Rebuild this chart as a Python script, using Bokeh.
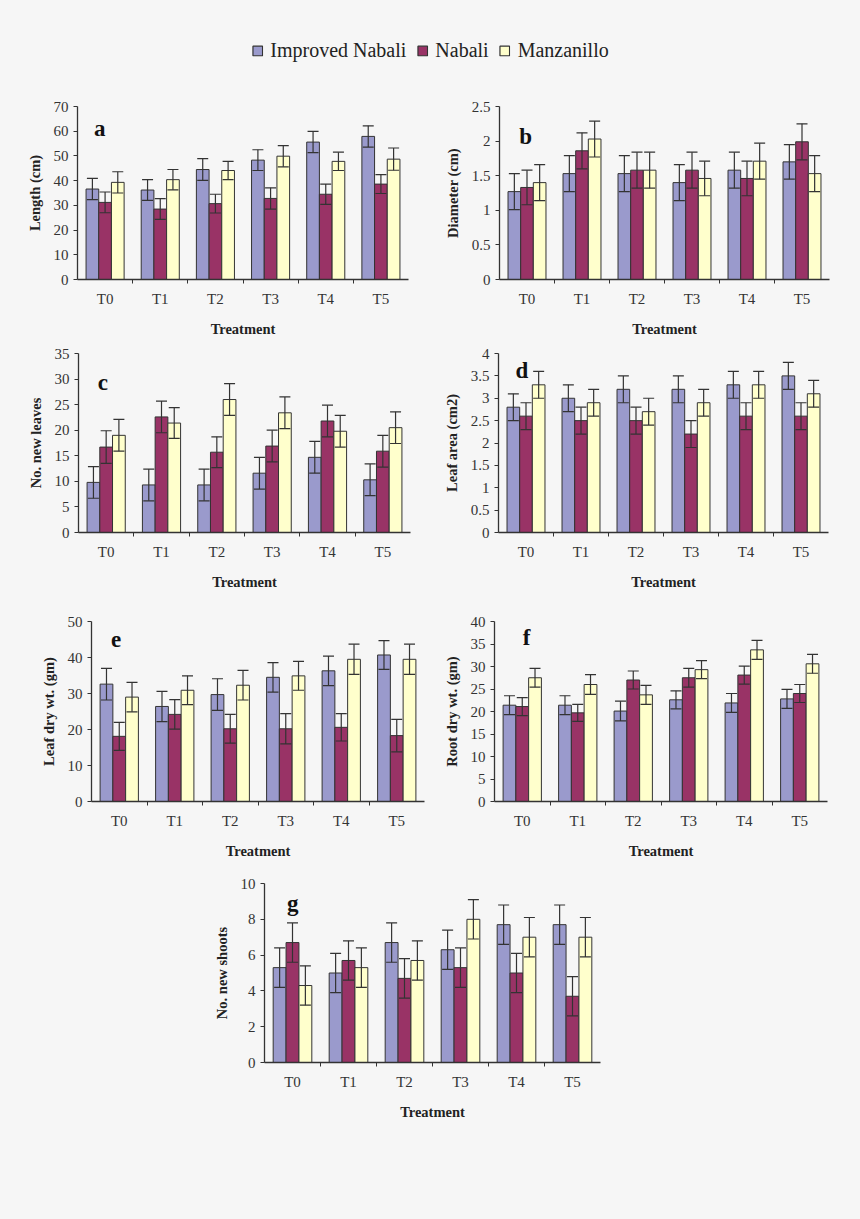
import numpy as np
from bokeh.plotting import figure
from bokeh.models import (Range1d, FixedTicker, SingleIntervalTicker, NumeralTickFormatter,
                          Whisker, ColumnDataSource, Label, Legend, LegendItem, TeeHead)
from bokeh.layouts import column, row
from bokeh.transform import dodge
from bokeh.embed import file_html
from bokeh.resources import INLINE

# ---------------- data ----------------
treatments = ["T0", "T1", "T2", "T3", "T4", "T5"]
series = ["Improved Nabali", "Nabali", "Manzanillo"]

# a: Length (cm)
length_in = [36.6, 36.2, 44.5, 48.3, 55.6, 57.9]
length_n = [31.2, 28.5, 30.7, 32.8, 34.5, 38.6]
length_m = [39.3, 40.4, 44.1, 49.9, 47.8, 48.7]
length_err_in = [4.3, 4.2, 4.4, 4.2, 4.3, 4.3]
length_err_n = [4.2, 4.2, 3.8, 4.3, 4.1, 3.8]
length_err_m = [4.3, 4.1, 3.7, 4.3, 3.7, 4.5]

# b: Diameter (cm)
diam_in = [1.27, 1.53, 1.53, 1.40, 1.58, 1.70]
diam_n = [1.33, 1.86, 1.58, 1.58, 1.46, 1.99]
diam_m = [1.40, 2.03, 1.58, 1.46, 1.71, 1.53]
diam_err_in = [0.26, 0.26, 0.26, 0.26, 0.26, 0.25]
diam_err_n = [0.25, 0.26, 0.26, 0.26, 0.25, 0.26]
diam_err_m = [0.26, 0.26, 0.26, 0.25, 0.26, 0.26]

# c: No. new leaves
leaves_in = [9.8, 9.3, 9.3, 11.6, 14.7, 10.3]
leaves_n = [16.7, 22.6, 15.7, 16.9, 21.8, 15.9]
leaves_m = [19.0, 21.4, 26.0, 23.4, 19.8, 20.5]
leaves_err_in = [3.1, 3.1, 3.1, 3.1, 3.1, 3.1]
leaves_err_n = [3.2, 3.1, 3.0, 3.1, 3.1, 3.1]
leaves_err_m = [3.1, 3.0, 3.1, 3.1, 3.1, 3.1]

# d: Leaf area (cm2)
area_in = [2.8, 3.0, 3.2, 3.2, 3.3, 3.5]
area_n = [2.6, 2.5, 2.5, 2.2, 2.6, 2.6]
area_m = [3.3, 2.9, 2.7, 2.9, 3.3, 3.1]
area_err_in = [0.3, 0.3, 0.3, 0.3, 0.3, 0.3]
area_err_n = [0.3, 0.3, 0.3, 0.3, 0.3, 0.3]
area_err_m = [0.3, 0.3, 0.3, 0.3, 0.3, 0.3]

# e: Leaf dry wt. (gm)
leafdw_in = [32.6, 26.4, 29.7, 34.5, 36.3, 40.7]
leafdw_n = [18.1, 24.2, 20.2, 20.2, 20.6, 18.3]
leafdw_m = [29.0, 30.9, 32.3, 34.9, 39.5, 39.5]
leafdw_err_in = [4.4, 4.2, 4.4, 4.1, 4.1, 4.0]
leafdw_err_n = [3.9, 4.1, 4.0, 4.2, 3.8, 4.5]
leafdw_err_m = [4.1, 4.0, 4.1, 4.0, 4.2, 4.2]

# f: Root dry wt. (gm)
rootdw_in = [21.4, 21.4, 20.1, 22.6, 21.9, 22.8]
rootdw_n = [21.1, 19.7, 27.0, 27.5, 28.1, 24.0]
rootdw_m = [27.5, 26.0, 23.7, 29.3, 33.7, 30.6]
rootdw_err_in = [2.1, 2.1, 2.2, 2.0, 2.1, 2.1]
rootdw_err_n = [2.0, 1.9, 2.0, 2.1, 2.0, 2.0]
rootdw_err_m = [2.1, 2.2, 2.1, 2.0, 2.1, 2.1]

# g: No. new shoots
shoots_in = [5.3, 5.0, 6.7, 6.3, 7.7, 7.7]
shoots_n = [6.7, 5.7, 4.7, 5.3, 5.0, 3.7]
shoots_m = [4.3, 5.3, 5.7, 8.0, 7.0, 7.0]
shoots_err_in = [1.1, 1.1, 1.1, 1.1, 1.1, 1.1]
shoots_err_n = [1.1, 1.1, 1.1, 1.1, 1.1, 1.1]
shoots_err_m = [1.1, 1.1, 1.1, 1.1, 1.1, 1.1]

# ---------------- style ----------------
BG = "#f6f6f6"
COLORS = ["#9a9acc", "#993366", "#ffffcc"]
EDGE = "#333333"
FONT = "Liberation Serif"
OFFS = [-0.23, 0.0, 0.23]
BAR_W = 0.23


def make_panel(vals, errs, ylabel, ymax, yint, letter, lx, ly,
               fw, fh, bl, br, bt, bb):
    n = len(treatments)
    centers = list(range(n))
    bounds = [i + 0.5 for i in range(n - 1)]
    p = figure(width=bl + fw + br, height=bt + fh + bb,
               x_range=Range1d(-0.5, n - 0.5), y_range=Range1d(0, ymax),
               output_backend="svg", toolbar_location=None,
               min_border_left=bl, min_border_right=br,
               min_border_top=bt, min_border_bottom=bb,
               background_fill_color=BG, border_fill_color=BG,
               outline_line_color=None)
    p.grid.visible = False

    data = {"x": centers}
    keys = ["s0", "s1", "s2"]
    for k, v, e in zip(keys, vals, errs):
        v = np.array(v, dtype=float)
        e = np.array(e, dtype=float)
        data[k] = v
        data[k + "_hi"] = v + e
        data[k + "_lo"] = v - e
    src = ColumnDataSource(data)

    for k, off, col in zip(keys, OFFS, COLORS):
        p.vbar(x=dodge("x", off, range=p.x_range), top=k, width=BAR_W,
               fill_color=col, line_color=EDGE, line_width=1, source=src)
    for k, off in zip(keys, OFFS):
        w = Whisker(source=src, base=dodge("x", off, range=p.x_range),
                    upper=k + "_hi", lower=k + "_lo",
                    line_color=EDGE, line_width=1.2,
                    upper_head=TeeHead(size=11, line_color=EDGE, line_width=1.2),
                    lower_head=TeeHead(size=11, line_color=EDGE, line_width=1.2),
                    level="overlay")
        p.add_layout(w)

    xa = p.xaxis[0]
    xa.ticker = FixedTicker(ticks=centers, minor_ticks=bounds)
    xa.major_label_overrides = {c: t for c, t in zip(centers, treatments)}
    xa.major_tick_out = 0
    xa.major_tick_in = 0
    xa.minor_tick_out = 4
    xa.minor_tick_in = 0
    xa.minor_tick_line_color = EDGE
    xa.axis_line_color = EDGE
    xa.axis_line_width = 1.3
    xa.major_label_text_font = FONT
    xa.major_label_text_font_size = "15px"
    xa.major_label_text_color = "#333333"
    xa.major_label_standoff = 7
    xa.axis_label = "Treatment"
    xa.axis_label_text_font = FONT
    xa.axis_label_text_font_style = "bold"
    xa.axis_label_text_font_size = "14.5px"
    xa.axis_label_text_color = "#222222"
    xa.axis_label_standoff = 11

    ya = p.yaxis[0]
    ya.ticker = SingleIntervalTicker(interval=yint, num_minor_ticks=0)
    ya.formatter = NumeralTickFormatter(format="0.[0]")
    ya.major_tick_out = 4
    ya.major_tick_in = 0
    ya.minor_tick_out = 0
    ya.minor_tick_in = 0
    ya.major_tick_line_color = EDGE
    ya.axis_line_color = EDGE
    ya.axis_line_width = 1.3
    ya.major_label_text_font = FONT
    ya.major_label_text_font_size = "15px"
    ya.major_label_text_color = "#333333"
    ya.major_label_standoff = 5
    ya.axis_label = ylabel
    ya.axis_label_text_font = FONT
    ya.axis_label_text_font_style = "bold"
    ya.axis_label_text_font_size = "14.5px"
    ya.axis_label_text_color = "#222222"
    ya.axis_label_standoff = 8

    p.add_layout(Label(x=lx, y=ly, text=letter, text_font=FONT,
                       text_font_style="bold", text_font_size="23px",
                       text_color="#111111", text_align="left",
                       text_baseline="alphabetic"))
    return p


pa = make_panel([length_in, length_n, length_m],
                [length_err_in, length_err_n, length_err_m],
                "Length (cm)", 70, 10, "a", -0.2, 61,
                331, 173, 77, 32, 21, 61)
pb = make_panel([diam_in, diam_n, diam_m],
                [diam_err_in, diam_err_n, diam_err_m],
                "Diameter (cm)", 2.5, 0.5, "b", -0.14, 2.07,
                330, 178, 59, 31, 16, 61)
pc = make_panel([leaves_in, leaves_n, leaves_m],
                [leaves_err_in, leaves_err_n, leaves_err_m],
                "No. new leaves", 35, 5, "c", -0.15, 29.3,
                332, 180, 78, 30, 12, 68)
pd = make_panel([area_in, area_n, area_m],
                [area_err_in, area_err_n, area_err_m],
                "Leaf area (cm2)", 4, 0.5, "d", -0.19, 3.62,
                331, 180, 57, 32, 13, 67)
pe = make_panel([leafdw_in, leafdw_n, leafdw_m],
                [leafdw_err_in, leafdw_err_n, leafdw_err_m],
                "Leaf dry wt. (gm)", 50, 10, "e", -0.15, 45,
                333, 180, 91, 16, 21, 69)
pf = make_panel([rootdw_in, rootdw_n, rootdw_m],
                [rootdw_err_in, rootdw_err_n, rootdw_err_m],
                "Root dry wt. (gm)", 40, 5, "f", 0.01, 36.4,
                334, 180, 53, 33, 21, 69)
pg = make_panel([shoots_in, shoots_n, shoots_m],
                [shoots_err_in, shoots_err_n, shoots_err_m],
                "No. new shoots", 10, 2, "g", -0.1, 8.88,
                336, 179, 264, 260, 13, 157)

# legend strip: proxy renderers kept outside the visible y range
leg = figure(width=860, height=85, output_backend="svg", toolbar_location=None,
             x_axis_location=None, y_axis_location=None,
             x_range=Range1d(0, 1), y_range=Range1d(10, 11),
             min_border=0, min_border_top=15,
             background_fill_color=BG, border_fill_color=BG,
             outline_line_color=None)
leg.grid.visible = False
rends = []
for i, c in enumerate(COLORS):
    rends.append(leg.vbar(x=[i], top=[0], width=0.1, fill_color=c,
                          line_color=EDGE, line_width=1.2))
legend = Legend(items=[LegendItem(label=s, renderers=[r]) for s, r in zip(series, rends)],
                location="center", orientation="horizontal",
                label_text_font=FONT, label_text_font_size="20px",
                label_text_color="#222222",
                glyph_width=12, glyph_height=12, label_standoff=7, spacing=10,
                padding=0, margin=0, border_line_color=None,
                background_fill_alpha=0)
leg.add_layout(legend, "center")

# every plot sits inside its own row so the column does not align plot frames
layout = column(row(leg, styles={"background-color": BG}),
                row(pa, pb, styles={"background-color": BG}),
                row(pc, pd, styles={"background-color": BG}),
                row(pe, pf, styles={"background-color": BG}),
                row(pg, styles={"background-color": BG}),
                styles={"background-color": BG})

open("out.html", "w").write(file_html(layout, INLINE))
